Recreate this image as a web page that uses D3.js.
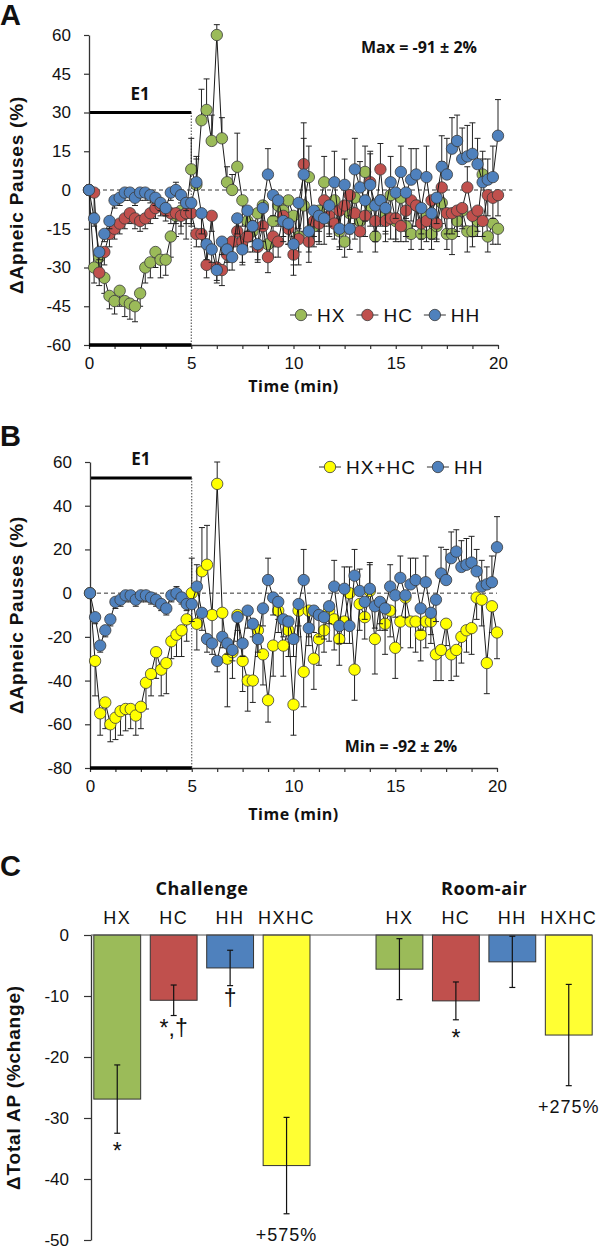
<!DOCTYPE html>
<html>
<head>
<meta charset="utf-8">
<script src="https://cdnjs.cloudflare.com/ajax/libs/d3/7.8.5/d3.min.js"></script>
<style>
body { margin: 0; background: #fff; }
text { font-family: "Liberation Sans", Arial, sans-serif; fill: #111; }
.bold { font-family: "Open Sans", sans-serif; font-weight: bold; }
.ttl { font-family: "Liberation Sans", Arial, sans-serif; font-weight: bold; }
</style>
</head>
<body>
<div id="chart"></div>
<script>
var WIDTH = 600, HEIGHT = 1250;

// time grid (min)
const times = [0,0.25,0.5,0.75,1,1.25,1.5,1.75,2,2.25,2.5,2.75,3,3.25,3.5,3.75,4,4.25,4.5,4.75,
  5,5.25,5.5,5.75,6,6.25,6.5,6.75,7,7.25,7.5,7.75,8,8.25,8.5,8.75,9,9.25,9.5,9.75,
  10,10.25,10.5,10.75,11,11.25,11.5,11.75,12,12.25,12.5,12.75,13,13.25,13.5,13.75,14,14.25,14.5,14.75,
  15,15.25,15.5,15.75,16,16.25,16.5,16.75,17,17.25,17.5,17.75,18,18.25,18.5,18.75,19,19.25,19.5,19.75,
  20];

const hx = [0,-30,-26,-34,-41,-43,-39,-43,-44,-45,-40,-30,-28,-24,-27,-27,-18,-10,-8,-9,
  8,2,27,31,19,60,20,3,0,9,-4,-12,-16,-9,-6,-21,-12,-6,-8,-4,
  -10,-18,-6,5,-14,-8,3,-11,-4,-16,-20,-9,-3,-12,7,-6,-18,-4,-10,-2,
  -12,-3,-14,-17,-6,-17,-10,-17,-14,-5,-17,-17,-12,-8,-16,-16,-12,6,-18,-13,
  -15];
const hx_se = [0,6,6,6,5,5,6,6,6,6,5,6,6,6,7,6,8,8,9,10,
  12,10,12,12,10,4,8,6,6,13,10,8,8,6,8,6,10,8,6,8,
  8,6,10,12,6,8,10,6,8,6,6,8,10,6,10,8,6,8,6,8,
  8,10,6,6,8,6,8,6,6,8,6,8,6,6,8,6,6,6,6,8,
  6];

const hc = [0,-1,-32,-24,-17,-15,-13,-11,-9,-11,-12,-11,-9,-7,-6,-8,-9,-9,-10,-9,
  -9,-17,-17,-29,-10,-30,-31,-25,-20,-16,-20,-18,-14,-22,-14,-26,-18,-20,-10,-15,
  -25,-19,10,-20,-12,-13,-4,-10,-13,-8,-6,-2,-9,-16,-10,3,-12,8,-12,-11,
  -11,-14,-8,-4,-6,-13,-12,-4,-13,1,-9,-9,-8,-7,1,-10,-8,-12,-2,-3,
  -2];
const hc_se = [0,8,5,5,5,4,4,4,4,4,4,4,4,4,4,4,4,4,4,4,
  5,5,5,5,6,5,6,6,6,6,8,6,8,6,6,6,8,6,8,6,
  8,10,16,8,10,8,10,8,6,8,10,8,10,8,8,12,8,10,8,8,
  8,6,10,8,8,6,8,10,6,10,8,8,8,8,8,8,8,6,8,8,
  8];

const hh = [0,-11,-24,-17,-12,-4,-3,-1,-1,-3,-1,-1,-2,-3,-5,-7,-1,0,-2,-5,
  -5,3,-9,-21,-23,-31,-20,-23,-26,-11,-23,-8,-14,-21,-7,6,-2,-4,-12,-13,
  -21,-5,6,-16,-8,-10,-11,-6,3,-15,2,-15,8,1,-4,2,-6,-4,-7,3,
  -1,7,-1,4,6,-7,5,-9,-3,9,6,16,19,12,13,14,10,3,4,5,
  21];
const hh_se = [0,3,3,3,3,3,3,3,3,3,3,3,3,3,3,3,3,3,3,3,
  8,10,8,6,5,5,5,5,5,6,6,8,6,6,8,10,8,8,8,8,
  8,10,14,8,10,10,10,8,12,8,10,8,12,10,8,12,10,10,10,10,
  10,10,10,12,10,10,12,10,10,12,14,12,10,12,12,12,10,12,8,12,
  14];

const hxhc = [0,-31,-55,-50,-60,-57,-54,-53,-53,-56,-52,-41,-37,-27,-35,-32,-22,-19,-17,-12,
  0,-14,10,13,-10,50,-9,-30,-27,-10,-31,-40,-40,-17,-28,-49,-24,-8,-24,-17,
  -51,-8,-36,-8,-30,-21,-17,-8,-12,-21,-13,0,-35,-5,-11,1,-21,-5,-14,-8,
  -25,-13,-2,-13,-13,-19,-13,-13,-28,-26,-14,-28,-26,-20,-17,-16,-2,-3,-32,-6,
  -18];
const hxhc_se = [0,16,10,12,8,10,11,10,9,9,10,12,10,12,12,14,8,10,12,10,
  16,12,20,18,14,10,12,22,12,12,14,14,10,12,14,10,14,10,14,12,
  14,12,16,12,14,12,10,14,14,12,10,12,14,12,10,12,16,12,14,12,
  14,12,10,12,14,12,12,10,12,14,10,12,12,12,10,12,10,12,14,12,
  12];

const x_ticks = [0,1.25,2.5,3.75,5,6.25,7.5,8.75,10,11.25,12.5,13.75,15,16.25,17.5,18.75,20];
const x_labels = [0,5,10,15,20];
const yA_ticks = [-60,-45,-30,-15,0,15,30,45,60];
const yB_ticks = [-80,-60,-40,-20,0,20,40,60];

// panel C
const bar_groups = ["Challenge", "Room-air"];
const bar_cats = ["HX", "HC", "HH", "HXHC"];
const challenge_vals = [-26.9, -10.7, -5.4, -37.8];
const challenge_se = [5.6, 2.5, 2.9, 7.9];
const challenge_marks = ["*", "*,\u2020", "\u2020", "+575%"];
const roomair_vals = [-5.6, -10.8, -4.4, -16.4];
const roomair_se = [5, 3.1, 4.2, 8.3];
const roomair_marks = ["", "*", "", "+275%"];
const yC_ticks = [-50,-40,-30,-20,-10,0];

const color = d3.scaleOrdinal().domain(["HX","HC","HH","HX+HC"]).range(["#9BBB59","#C0504D","#4F81BD","#FFFF00"]);

const svg = d3.select("#chart").append("svg").attr("width", WIDTH).attr("height", HEIGHT);

function styleAxis(ax, size) {
    ax.select(".domain").attr("stroke", "#333").attr("stroke-width", 1.3);
    ax.selectAll(".tick line").attr("stroke", "#333").attr("stroke-width", 1.2);
    ax.selectAll(".tick text").attr("font-family", "Liberation Sans, Arial, sans-serif").attr("font-size", size).attr("fill", "#111");
}

function drawTimePanel(cfg) {
    const x = d3.scaleLinear().domain([0, 20]).range([cfg.left, cfg.right]);
    const y = d3.scaleLinear().domain(cfg.ydom).range([cfg.bottom, cfg.top]);
    const g = svg.append("g");

    g.append("text").attr("class", "ttl").attr("x", 0).attr("y", cfg.letterY).attr("font-size", 29).text(cfg.letter);

    // dashed baseline
    g.append("line").attr("x1", x(0)).attr("x2", x(cfg.zeroEnd)).attr("y1", y(0)).attr("y2", y(0))
        .attr("stroke", "#333").attr("stroke-width", 1).attr("stroke-dasharray", "4,3");

    // E1 marker
    g.append("line").attr("x1", x(0)).attr("x2", x(5)).attr("y1", y(cfg.e1)).attr("y2", y(cfg.e1)).attr("stroke", "#000").attr("stroke-width", 3);
    g.append("line").attr("x1", x(5)).attr("x2", x(5)).attr("y1", y(cfg.e1)).attr("y2", cfg.bottom)
        .attr("stroke", "#444").attr("stroke-width", 1).attr("stroke-dasharray", "1.5,1.5");
    g.append("text").attr("class", "bold").attr("x", x(2.5)).attr("y", y(cfg.e1) - 13).attr("text-anchor", "middle").attr("font-size", 17).text("E1");

    const gx = g.append("g").attr("transform", "translate(0," + cfg.bottom + ")")
        .call(d3.axisBottom(x).tickValues(x_ticks).tickSize(4).tickSizeOuter(0).tickPadding(8)
        .tickFormat(d => x_labels.indexOf(d) >= 0 ? d : ""));
    styleAxis(gx, 17);
    const gy = g.append("g").attr("transform", "translate(" + cfg.left + ",0)")
        .call(d3.axisLeft(y).tickValues(cfg.yticks).tickSize(5).tickSizeOuter(0).tickPadding(13).tickFormat(d => String(d)));
    styleAxis(gy, 17);

    g.append("line").attr("x1", x(0)).attr("x2", x(5)).attr("y1", cfg.bottom).attr("y2", cfg.bottom).attr("stroke", "#000").attr("stroke-width", 3.5);

    g.append("text").attr("class", "ttl").attr("transform", "translate(23," + cfg.titleY + ") rotate(-90)")
        .attr("text-anchor", "middle").attr("font-size", 19).attr("letter-spacing", 0.8).text("\u0394Apneic Pauses (%)");
    g.append("text").attr("class", "bold").attr("x", (cfg.left + cfg.right) / 2).attr("y", cfg.bottom + cfg.xTitleOff)
        .attr("text-anchor", "middle").attr("font-size", 16).attr("letter-spacing", 0.5).text("Time (min)");

    g.append("text").attr("class", "bold").attr("x", cfg.note[1]).attr("y", cfg.note[2]).attr("text-anchor", "middle")
        .attr("font-size", 16).text(cfg.note[0]);

    cfg.series.forEach(s => {
        const pts = times.map((t, i) => ({t: t, v: s.values[i], e: s.se[i]}));
        const sg = g.append("g");
        const end = d => d.v < 0 ? d.v - d.e : d.v + d.e;
        sg.selectAll("line.err").data(pts).enter().append("line").attr("class", "err")
            .attr("x1", d => x(d.t)).attr("x2", d => x(d.t)).attr("y1", d => y(d.v)).attr("y2", d => y(end(d)))
            .attr("stroke", "#222").attr("stroke-width", 1);
        sg.selectAll("line.cap").data(pts).enter().append("line").attr("class", "cap")
            .attr("x1", d => x(d.t) - 3).attr("x2", d => x(d.t) + 3).attr("y1", d => y(end(d))).attr("y2", d => y(end(d)))
            .attr("stroke", "#222").attr("stroke-width", 1);
        sg.append("path").datum(pts).attr("fill", "none").attr("stroke", "#1a1a1a").attr("stroke-width", 1)
            .attr("d", d3.line().x(d => x(d.t)).y(d => y(d.v)));
        sg.selectAll("circle").data(pts).enter().append("circle")
            .attr("cx", d => x(d.t)).attr("cy", d => y(d.v)).attr("r", 5.7)
            .attr("fill", color(s.name)).attr("stroke", "#3a3a3a").attr("stroke-width", 0.8);
    });

    // legend
    let lx = cfg.legend[0];
    cfg.series.forEach(s => {
        const row = g.append("g").attr("transform", "translate(" + lx + "," + cfg.legend[1] + ")");
        row.append("line").attr("x1", -11).attr("x2", 11).attr("stroke", "#333").attr("stroke-width", 1);
        row.append("circle").attr("r", 5.7).attr("fill", color(s.name)).attr("stroke", "#3a3a3a").attr("stroke-width", 0.8);
        const t = row.append("text").attr("x", 16).attr("y", 7).attr("font-size", 19).attr("letter-spacing", 1).text(s.name);
        lx += 16 + t.node().getComputedTextLength() + 22;
    });
}

drawTimePanel({
    letter: "A", letterY: 25, left: 89, right: 498, top: 35, bottom: 345, ydom: [-60, 60], yticks: yA_ticks,
    zeroEnd: 20.7, e1: 30, titleY: 195, xTitleOff: 47, note: ["Max = -91 \u00b1 2%", 419, 53], legend: [301, 315],
    series: [{name: "HX", values: hx, se: hx_se}, {name: "HC", values: hc, se: hc_se}, {name: "HH", values: hh, se: hh_se}]
});

drawTimePanel({
    letter: "B", letterY: 446, left: 90, right: 497, top: 462, bottom: 768, ydom: [-80, 60], yticks: yB_ticks,
    zeroEnd: 20, e1: 52.7, titleY: 615, xTitleOff: 52, note: ["Min = -92 \u00b1 2%", 401, 752], legend: [330, 467],
    series: [{name: "HX+HC", values: hxhc, se: hxhc_se}, {name: "HH", values: hh, se: hh_se}]
});

function drawBars() {
    const keys = [];
    bar_groups.forEach((grp, gi) => {
        if (gi > 0) keys.push("gap");
        bar_cats.forEach(c => keys.push(grp + "|" + c));
    });
    const x = d3.scaleBand().domain(keys).range([91, 595]).paddingInner(0.17).paddingOuter(0.05);
    const y = d3.scaleLinear().domain([-50, 0]).range([1240, 935]);
    const g = svg.append("g");
    const fills = ["#9BBB59", "#C0504D", "#4F81BD", "#FFFF33"];

    g.append("text").attr("class", "ttl").attr("x", 0).attr("y", 876).attr("font-size", 29).text("C");

    const rows = [
        {group: "Challenge", vals: challenge_vals, se: challenge_se, marks: challenge_marks},
        {group: "Room-air", vals: roomair_vals, se: roomair_se, marks: roomair_marks}
    ];
    const bars = [];
    rows.forEach(r => bar_cats.forEach((c, i) => bars.push({key: r.group + "|" + c, cat: c, i: i, v: r.vals[i], e: r.se[i], mark: r.marks[i]})));

    g.selectAll("rect").data(bars).enter().append("rect")
        .attr("x", d => x(d.key)).attr("y", y(0)).attr("width", x.bandwidth()).attr("height", d => y(d.v) - y(0))
        .attr("fill", d => fills[d.i]).attr("stroke", "#333").attr("stroke-width", 1);

    g.append("line").attr("x1", 91).attr("x2", 592).attr("y1", y(0)).attr("y2", y(0)).attr("stroke", "#555").attr("stroke-width", 1);

    const cx = d => x(d.key) + x.bandwidth() / 2;
    g.selectAll("line.err").data(bars).enter().append("line").attr("class", "err")
        .attr("x1", cx).attr("x2", cx).attr("y1", d => y(d.v + d.e)).attr("y2", d => y(d.v - d.e)).attr("stroke", "#111").attr("stroke-width", 1.2);
    [1, -1].forEach(sg => {
        g.selectAll("line.cap" + sg).data(bars).enter().append("line")
            .attr("x1", d => cx(d) - 3).attr("x2", d => cx(d) + 3)
            .attr("y1", d => y(d.v + sg * d.e)).attr("y2", d => y(d.v + sg * d.e)).attr("stroke", "#111").attr("stroke-width", 1.2);
    });

    // significance marks under the error bars
    const isPct = m => m[0] === "+";
    g.selectAll("text.mark").data(bars.filter(d => d.mark)).enter().append("text").attr("class", "mark")
        .attr("x", cx).attr("y", d => y(d.v - d.e) + (isPct(d.mark) ? 27 : (d.mark === "*" ? 26 : 20)))
        .attr("text-anchor", "middle")
        .attr("font-family", d => isPct(d.mark) ? "Liberation Sans, Arial, sans-serif" : "DejaVu Sans, sans-serif")
        .attr("font-size", d => isPct(d.mark) ? 18 : 23).attr("letter-spacing", d => isPct(d.mark) ? 1 : 0)
        .attr("fill", "#111").text(d => d.mark);

    g.selectAll("text.cat").data(bars).enter().append("text").attr("class", "cat")
        .attr("x", cx).attr("y", 924).attr("text-anchor", "middle").attr("font-size", 18).attr("letter-spacing", 1.5).text(d => d.cat);

    bar_groups.forEach(grp => {
        const a = x(grp + "|" + bar_cats[0]), b = x(grp + "|" + bar_cats[bar_cats.length - 1]) + x.bandwidth();
        g.append("text").attr("class", "bold").attr("x", (a + b) / 2).attr("y", 895).attr("text-anchor", "middle")
            .attr("font-size", 18).attr("letter-spacing", 0.5).text(grp);
    });

    const gy = g.append("g").attr("transform", "translate(91,0)")
        .call(d3.axisLeft(y).tickValues(yC_ticks).tickSize(7).tickSizeOuter(0).tickPadding(15).tickFormat(d => String(d)));
    styleAxis(gy, 17);

    g.append("text").attr("class", "ttl").attr("transform", "translate(20," + ((y(0) + y(-50)) / 2) + ") rotate(-90)")
        .attr("text-anchor", "middle").attr("font-size", 19).attr("letter-spacing", 0.8).text("\u0394Total AP (%change)");
}
drawBars();
</script>
</body>
</html>
